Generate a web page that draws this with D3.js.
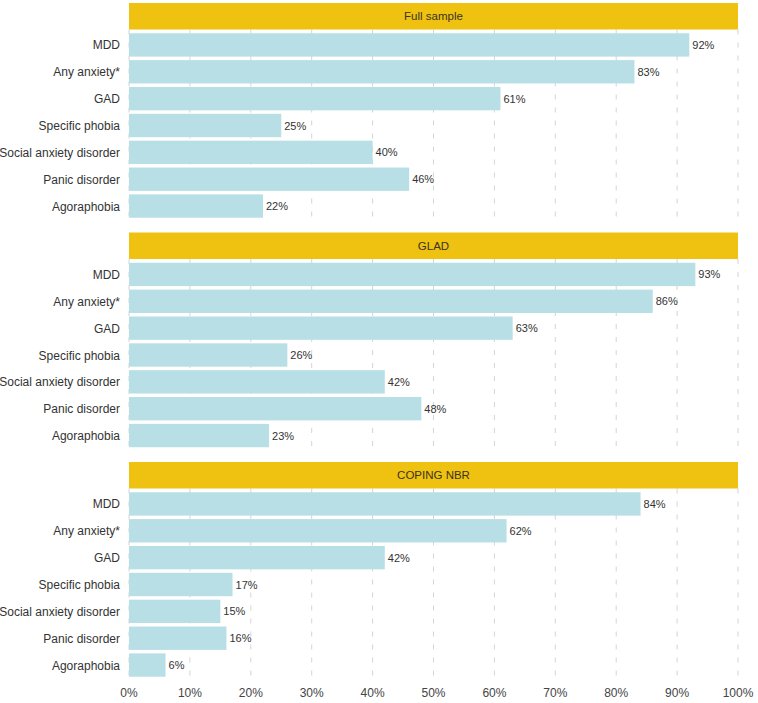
<!DOCTYPE html>
<html>
<head>
<meta charset="utf-8">
<script src="https://cdn.jsdelivr.net/npm/d3@7"></script>
<style>
  body { margin: 0; background: #fff; }
  text { font-family: "Liberation Sans", Arial, sans-serif; }
</style>
</head>
<body>
<div id="chart"></div>
<script>
// data
var panels = ["Full sample", "GLAD", "COPING NBR"];
var categories = ["MDD", "Any anxiety*", "GAD", "Specific phobia",
                  "Social anxiety disorder", "Panic disorder", "Agoraphobia"];
var fullSample = [92, 83, 61, 25, 40, 46, 22];
var glad = [93, 86, 63, 26, 42, 48, 23];
var copingNbr = [84, 62, 42, 17, 15, 16, 6];
var xTicks = [0, 10, 20, 30, 40, 50, 60, 70, 80, 90, 100];

var seriesValues = [fullSample, glad, copingNbr];

function init(){

    var w = 758;
    var h = 703;
    var left = 129;
    var right = 738;
    var panelTop = 3;
    var panelStep = 229.5;
    var stripH = 26.5;
    var plotH = 192;

    var svg = d3.select("#chart")
                .append("svg")
                .attr("width", w)
                .attr("height", h);

    var x = d3.scaleLinear()
              .domain([0, 100])
              .range([left, right]);

    panels.forEach(function(name, p) {

        var top = panelTop + p * panelStep;
        var plotTop = top + stripH;

        var y = d3.scaleBand()
                  .domain(categories)
                  .range([plotTop, plotTop + plotH])
                  .paddingInner(0.13)
                  .paddingOuter(0.14);

        var g = svg.append("g");

        // dashed grid
        g.selectAll("line.grid")
            .data(xTicks)
            .enter()
            .append("line")
            .attr("class", "grid")
            .attr("x1", function(d) { return x(d); })
            .attr("x2", function(d) { return x(d); })
            .attr("y1", plotTop)
            .attr("y2", plotTop + plotH)
            .attr("stroke", "#d4d4d4")
            .attr("stroke-width", 1)
            .attr("stroke-dasharray", "5,8");

        // strip
        g.append("rect")
            .attr("x", left)
            .attr("y", top)
            .attr("width", right - left)
            .attr("height", stripH)
            .attr("fill", "#efc111");

        g.append("text")
            .text(name)
            .attr("x", (left + right) / 2)
            .attr("y", top + stripH / 2 + 4)
            .attr("text-anchor", "middle")
            .attr("font-size", "11.5px")
            .attr("fill", "#3a3420");

        var data = categories.map(function(c, i) {
            return { cat: c, val: seriesValues[p][i] };
        });

        // bars
        g.selectAll("rect.bar")
            .data(data)
            .enter()
            .append("rect")
            .attr("class", "bar")
            .attr("x", x(0))
            .attr("y", function(d) { return y(d.cat); })
            .attr("width", function(d) { return x(d.val) - x(0); })
            .attr("height", y.bandwidth())
            .attr("fill", "#b8dfe6");

        // value labels
        g.selectAll("text.val")
            .data(data)
            .enter()
            .append("text")
            .attr("class", "val")
            .text(function(d) { return d.val + "%"; })
            .attr("x", function(d) { return x(d.val) + 3; })
            .attr("y", function(d) { return y(d.cat) + y.bandwidth() / 2 + 4; })
            .attr("font-size", "11px")
            .attr("fill", "#333");

        // category labels
        g.selectAll("text.cat")
            .data(data)
            .enter()
            .append("text")
            .attr("class", "cat")
            .text(function(d) { return d.cat; })
            .attr("x", left - 9)
            .attr("y", function(d) { return y(d.cat) + y.bandwidth() / 2 + 4.5; })
            .attr("text-anchor", "end")
            .attr("font-size", "12px")
            .attr("fill", "#333");
    });

    // x axis labels
    svg.selectAll("text.tick")
        .data(xTicks)
        .enter()
        .append("text")
        .attr("class", "tick")
        .text(function(d) { return d + "%"; })
        .attr("x", function(d) { return x(d); })
        .attr("y", 697)
        .attr("text-anchor", "middle")
        .attr("font-size", "12px")
        .attr("fill", "#444");
}

window.onload = init;
</script>
</body>
</html>
